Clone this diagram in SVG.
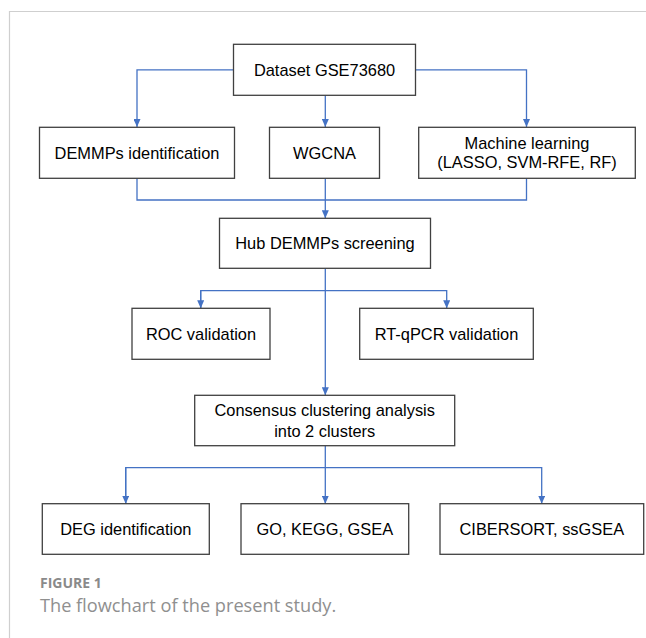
<svg xmlns="http://www.w3.org/2000/svg" width="646" height="638" viewBox="0 0 646 638">
<style>
.box{fill:#fff;stroke:#404040;stroke-width:1.3}
.t{font-family:"Liberation Sans",Arial,sans-serif;font-size:16.4px;fill:#000;text-anchor:middle}
.c{fill:none;stroke:#4472C4;stroke-width:1.3}
.cap1{font-family:"Open Sans",Lato,sans-serif;font-size:14px;font-weight:bold;fill:#8a8a8a}
.cap2{font-family:"Open Sans",Lato,sans-serif;font-size:18.2px;fill:#8f8f8f}
</style>
<defs>
<marker id="ah" viewBox="0 0 8 7" refX="8" refY="3.5" markerWidth="8" markerHeight="7" markerUnits="userSpaceOnUse" orient="auto">
<path d="M0,0 L8,3.5 L0,7 Z" fill="#4472C4"/>
</marker>
</defs>
<rect width="646" height="638" fill="#fff"/>
<path d="M9.5,638 V11.5 H646" fill="none" stroke="#cfcfcf" stroke-width="1.2"/>
<g id="connectors">
<path class="c" d="M233.5,69.8 H137 V127" marker-end="url(#ah)"/>
<path class="c" d="M415.5,69.8 H526.5 V127" marker-end="url(#ah)"/>
<path class="c" d="M325.3,95.5 V127" marker-end="url(#ah)"/>
<path class="c" d="M137,178.5 V200 H526.5 V178.5"/>
<path class="c" d="M325.3,178.5 V218.3" marker-end="url(#ah)"/>
<path class="c" d="M200.7,308.3 V290.7 H446.7 V308.3" marker-end="url(#ah)"/>
<path class="c" d="M200.7,290.7 V308.3" marker-end="url(#ah)"/>
<path class="c" d="M325.3,268.5 V395.3" marker-end="url(#ah)"/>
<path class="c" d="M125.7,503.7 V467.7 H541.7 V503.7" marker-end="url(#ah)"/>
<path class="c" d="M125.7,467.7 V503.7" marker-end="url(#ah)"/>
<path class="c" d="M325.3,445.7 V503.7" marker-end="url(#ah)"/>
</g>
<g id="dataset"><rect class="box" x="233.5" y="44.3" width="182" height="51"/><text class="t" x="324.5" y="75.6">Dataset GSE73680</text></g>
<g id="demmps"><rect class="box" x="39.5" y="127.3" width="195" height="51"/><text class="t" x="137" y="158.6">DEMMPs identification</text></g>
<g id="wgcna"><rect class="box" x="269.5" y="127.3" width="110" height="51"/><text class="t" x="324.5" y="158.6">WGCNA</text></g>
<g id="ml"><rect class="box" x="418.7" y="127.3" width="216.6" height="51"/><text class="t" x="527" y="148.6">Machine learning</text><text class="t" x="527" y="168">(LASSO, SVM-RFE, RF)</text></g>
<g id="hub"><rect class="box" x="219.5" y="218.3" width="211" height="50"/><text class="t" x="325" y="249.1">Hub DEMMPs screening</text></g>
<g id="roc"><rect class="box" x="132" y="308.3" width="138" height="51"/><text class="t" x="201" y="339.6">ROC validation</text></g>
<g id="rtqpcr"><rect class="box" x="359.7" y="308.3" width="173.6" height="51"/><text class="t" x="446.5" y="339.6">RT-qPCR validation</text></g>
<g id="consensus"><rect class="box" x="194.7" y="395.3" width="260" height="50.4"/><text class="t" x="324.7" y="416">Consensus clustering analysis</text><text class="t" x="324.7" y="436.6">into 2 clusters</text></g>
<g id="deg"><rect class="box" x="42.3" y="503.7" width="167" height="50.6"/><text class="t" x="125.8" y="534.8">DEG identification</text></g>
<g id="go"><rect class="box" x="241" y="503.7" width="167.7" height="50.6"/><text class="t" x="324.8" y="534.8">GO, KEGG, GSEA</text></g>
<g id="cibersort"><rect class="box" x="440" y="503.7" width="203.7" height="50.6"/><text class="t" x="541.8" y="534.8">CIBERSORT, ssGSEA</text></g>
<text class="cap1" x="40" y="587.7">FIGURE 1</text>
<text class="cap2" x="40" y="611.7">The flowchart of the present study.</text>
</svg>
